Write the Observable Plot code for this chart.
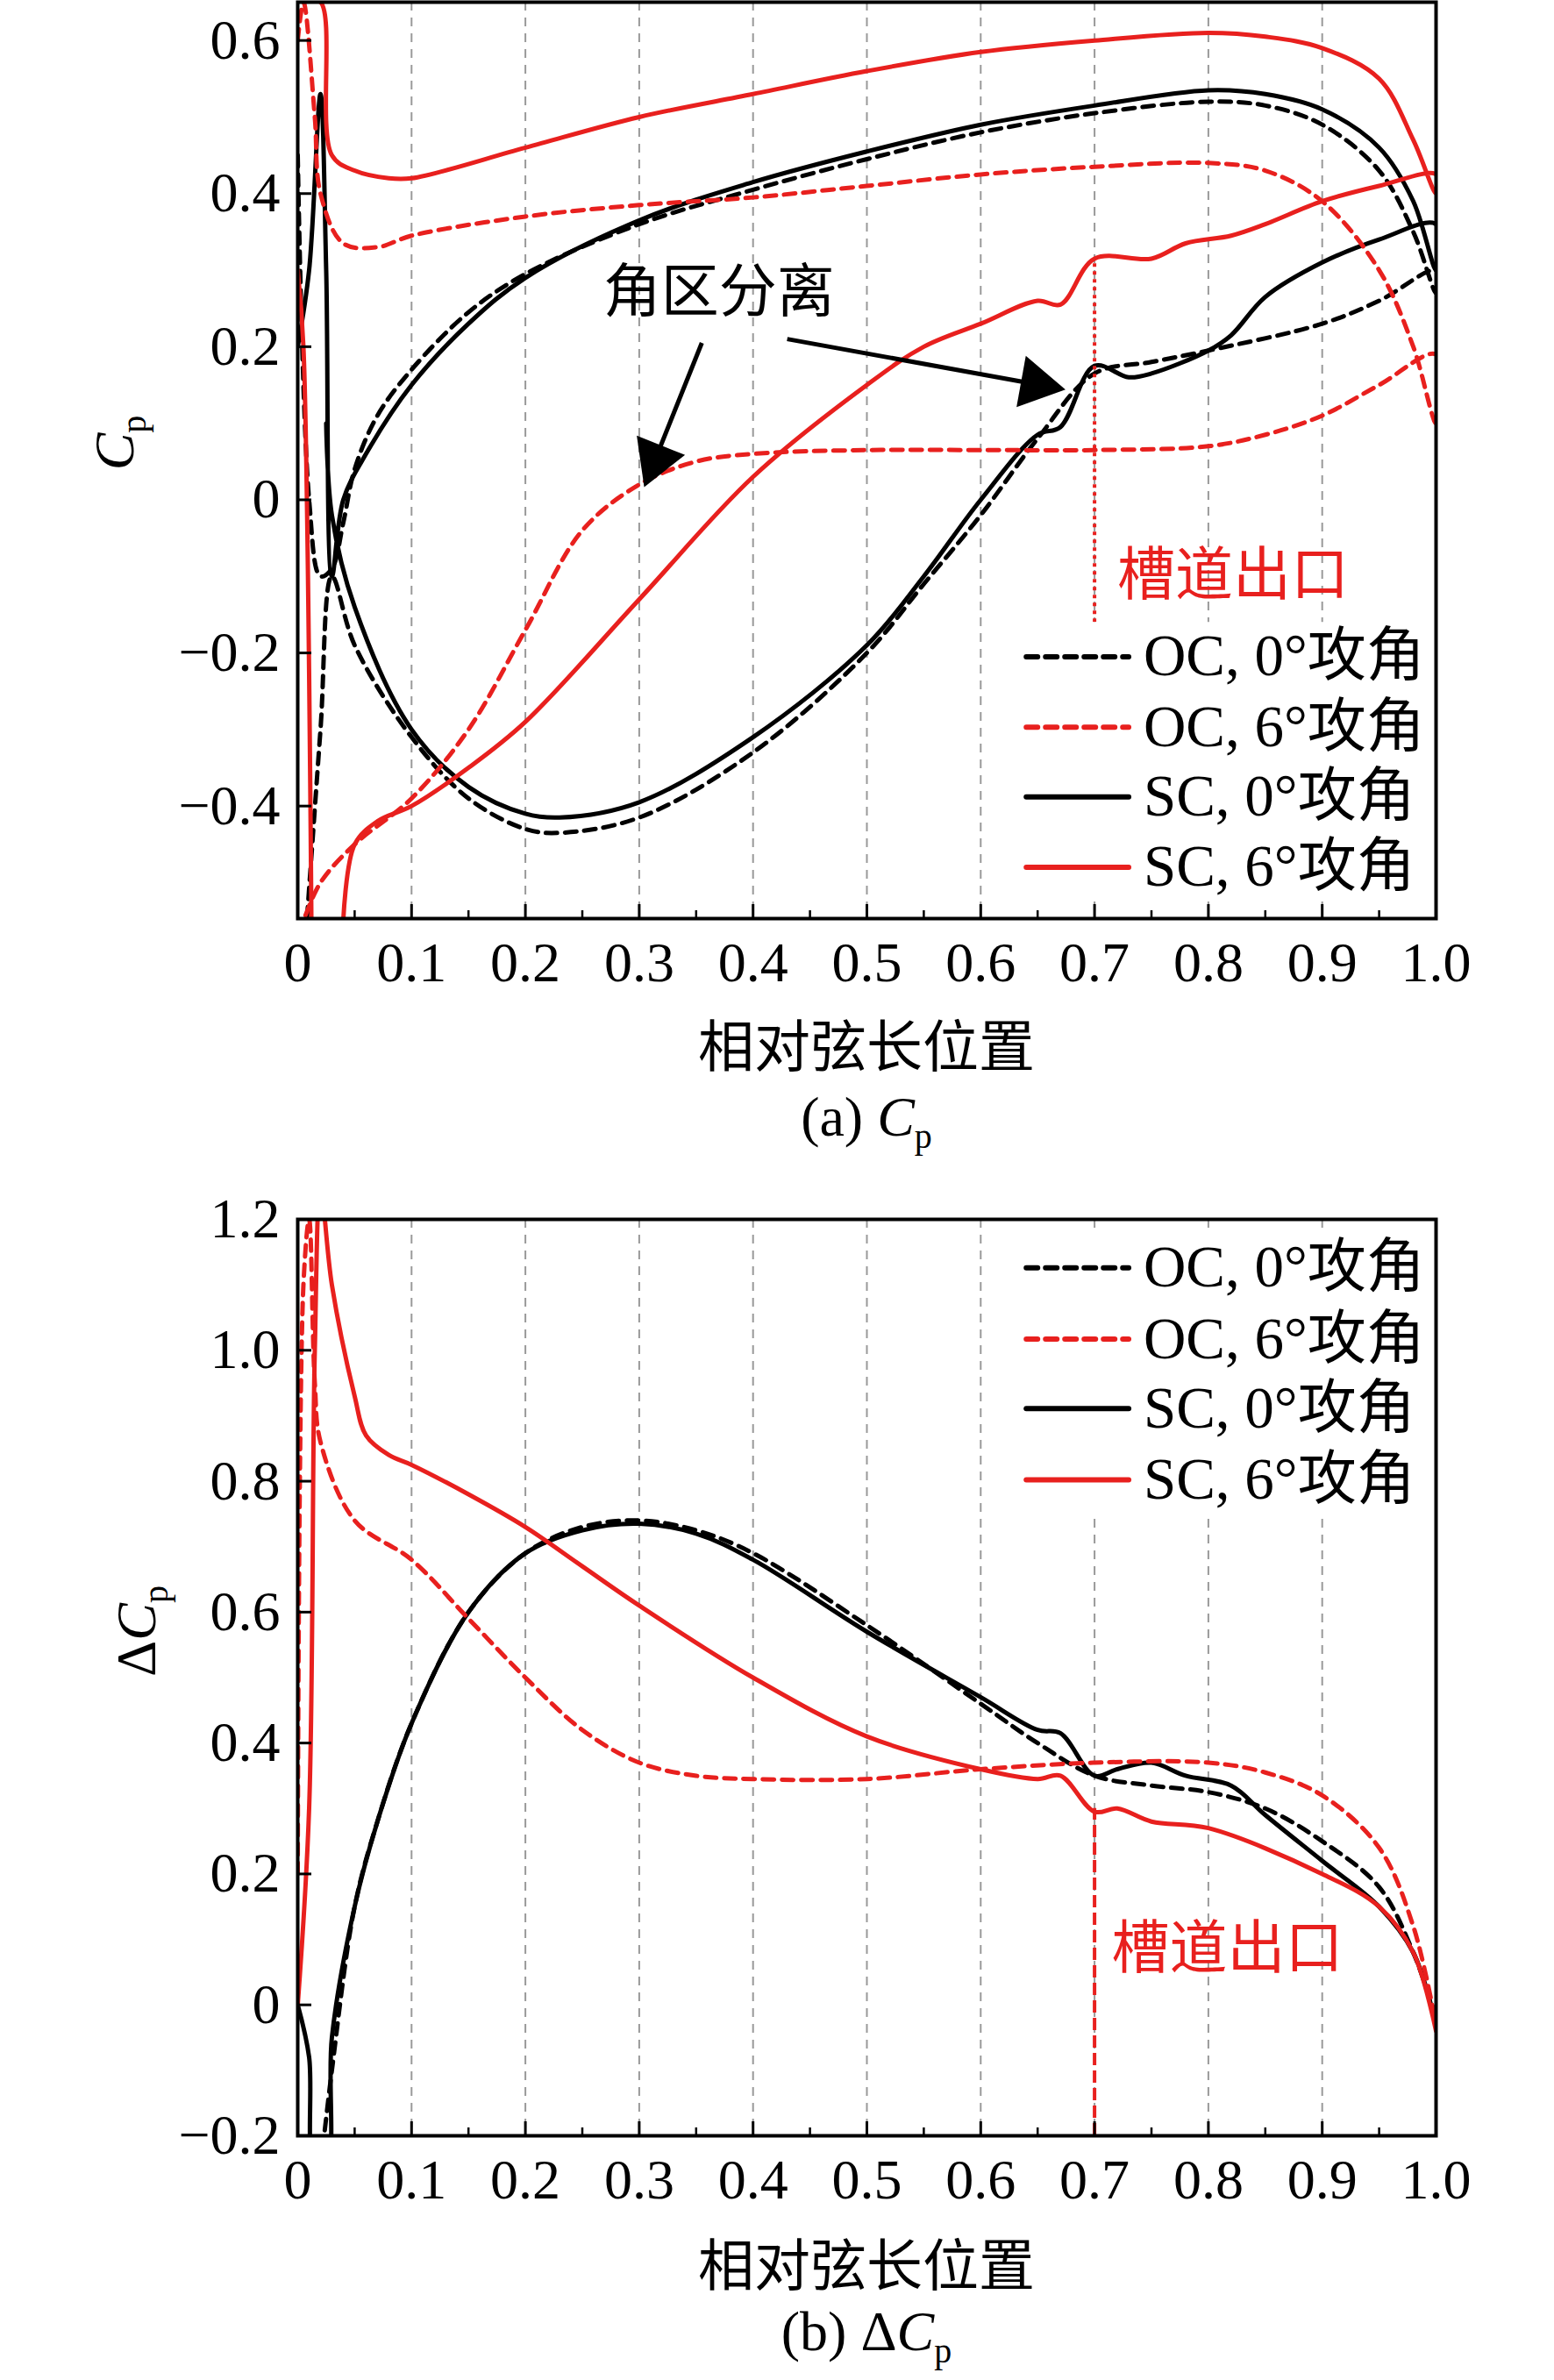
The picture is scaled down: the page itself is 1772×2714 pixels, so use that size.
<!DOCTYPE html>
<html><head><meta charset="utf-8">
<script src="https://cdn.jsdelivr.net/npm/d3@7"></script>
<script src="https://cdn.jsdelivr.net/npm/@observablehq/plot@0.6"></script>
<style>
body{margin:0;background:#fff;font-family:"Liberation Serif","Noto Sans CJK SC",serif;}
#wrap{position:relative;width:1772px;height:2714px;}
.lab{position:absolute;font-size:64px;white-space:nowrap;transform:translateX(-50%);}
.ylab{position:absolute;font-size:64px;white-space:nowrap;transform:translate(-50%,-50%) rotate(-90deg);}
sub{font-size:40px;}
</style></head><body><div id="wrap"></div>
<script>
// Panel (a) Cp
const ocA0 = [[0,0.45],[0.01,0.0],[0.02,-0.1],[0.03,-0.09],[0.04,-0.03],[0.05,0.04],[0.07,0.11],[0.1,0.17],[0.15,0.245],[0.2,0.295],[0.3,0.36],[0.4,0.405],[0.5,0.445],[0.6,0.48],[0.7,0.505],[0.8,0.52],[0.85,0.515],[0.9,0.49],[0.95,0.43],[0.98,0.35],[1.0,0.27],
  [1.0,0.3],[0.95,0.26],[0.9,0.23],[0.8,0.195],[0.75,0.18],[0.7,0.165],[0.65,0.08],[0.6,-0.02],[0.55,-0.11],[0.5,-0.2],[0.4,-0.33],[0.3,-0.415],[0.23,-0.435],[0.2,-0.43],[0.15,-0.39],[0.1,-0.31],[0.05,-0.19],[0.03,-0.1],[0.02,-0.3],[0.008,-0.55]];
const scA0 = [[0,0.2],[0.01,0.3],[0.02,0.53],[0.025,0.3],[0.03,-0.1],[0.04,0.0],[0.06,0.06],[0.1,0.15],[0.15,0.23],[0.2,0.29],[0.3,0.365],[0.4,0.415],[0.5,0.455],[0.6,0.49],[0.7,0.515],[0.8,0.535],[0.85,0.53],[0.9,0.51],[0.95,0.46],[0.98,0.39],[1.0,0.3],
  [1.0,0.36],[0.95,0.34],[0.9,0.31],[0.85,0.265],[0.82,0.215],[0.8,0.195],[0.75,0.165],[0.73,0.16],[0.7,0.175],[0.67,0.095],[0.65,0.085],[0.6,0.0],[0.55,-0.1],[0.5,-0.19],[0.4,-0.31],[0.3,-0.395],[0.23,-0.415],[0.2,-0.41],[0.15,-0.375],[0.1,-0.3],[0.05,-0.14],[0.03,-0.02],[0.025,0.1]];
const ocA6 = [[0,0.6],[0.005,0.65],[0.015,0.5],[0.02,0.4],[0.04,0.335],[0.07,0.33],[0.1,0.345],[0.2,0.37],[0.3,0.385],[0.4,0.395],[0.5,0.41],[0.6,0.425],[0.7,0.435],[0.8,0.44],[0.85,0.43],[0.9,0.39],[0.95,0.3],[0.98,0.2],[1.0,0.1],
  [1.0,0.19],[0.95,0.15],[0.9,0.11],[0.85,0.085],[0.8,0.07],[0.7,0.065],[0.6,0.065],[0.5,0.065],[0.4,0.06],[0.35,0.05],[0.3,0.02],[0.25,-0.04],[0.2,-0.17],[0.15,-0.3],[0.1,-0.39],[0.05,-0.45],[0.02,-0.5],[0.005,-0.55]];
const scA6 = [[0.005,0.65],[0.02,0.65],[0.03,0.45],[0.05,0.43],[0.08,0.42],[0.1,0.42],[0.2,0.46],[0.3,0.5],[0.4,0.53],[0.5,0.56],[0.6,0.585],[0.7,0.6],[0.8,0.61],[0.85,0.605],[0.9,0.59],[0.95,0.55],[0.98,0.47],[1.0,0.4],
  [1.0,0.425],[0.95,0.41],[0.9,0.39],[0.85,0.36],[0.82,0.345],[0.78,0.335],[0.75,0.315],[0.7,0.315],[0.67,0.255],[0.65,0.26],[0.6,0.23],[0.55,0.2],[0.5,0.15],[0.4,0.03],[0.3,-0.13],[0.2,-0.29],[0.15,-0.35],[0.1,-0.4],[0.07,-0.42],[0.05,-0.45],[0.04,-0.55]];
const scA6le = [[0,0.3],[0.005,0.2],[0.012,-0.55]];
// Panel (b) ΔCp
const ocB0 = [[0.02,-0.25],[0.03,-0.1],[0.05,0.15],[0.07,0.28],[0.1,0.43],[0.15,0.6],[0.2,0.69],[0.25,0.73],[0.3,0.74],[0.35,0.725],[0.4,0.69],[0.5,0.58],[0.6,0.46],[0.65,0.4],[0.7,0.35],[0.75,0.335],[0.8,0.325],[0.85,0.3],[0.9,0.25],[0.95,0.18],[0.98,0.08],[1.0,-0.02]];
const scB0 = [[0,0.0],[0.01,-0.08],[0.015,-0.25],[0.025,-0.25],[0.03,-0.05],[0.05,0.15],[0.07,0.28],[0.1,0.43],[0.15,0.6],[0.2,0.69],[0.25,0.725],[0.3,0.735],[0.35,0.72],[0.4,0.68],[0.5,0.57],[0.6,0.47],[0.65,0.42],[0.67,0.415],[0.7,0.35],[0.72,0.36],[0.75,0.37],[0.78,0.35],[0.82,0.335],[0.85,0.29],[0.9,0.22],[0.95,0.15],[0.98,0.08],[1.0,-0.03]];
const ocB6 = [[0,0.2],[0.005,1.1],[0.01,1.2],[0.015,0.95],[0.02,0.86],[0.05,0.74],[0.1,0.68],[0.15,0.59],[0.2,0.5],[0.25,0.42],[0.3,0.37],[0.35,0.35],[0.4,0.345],[0.5,0.345],[0.6,0.36],[0.7,0.37],[0.8,0.37],[0.85,0.355],[0.9,0.32],[0.95,0.24],[0.98,0.12],[1.0,-0.03]];
const scB6 = [[0,0.0],[0.01,0.3],[0.015,1.0],[0.02,1.25],[0.03,1.1],[0.05,0.93],[0.06,0.87],[0.08,0.84],[0.1,0.825],[0.15,0.78],[0.2,0.73],[0.25,0.67],[0.3,0.61],[0.4,0.5],[0.5,0.41],[0.6,0.36],[0.65,0.345],[0.67,0.35],[0.7,0.295],[0.72,0.3],[0.75,0.28],[0.8,0.27],[0.9,0.2],[0.95,0.15],[0.98,0.08],[1.0,-0.04]];
const legendNames = ["OC, 0°攻角","OC, 6°攻角","SC, 0°攻角","SC, 6°攻角"];
const legendColors = ["#000","#e8201e","#000","#e8201e"];
const legendDash = [true,true,false,false];
const xTicks = d3.range(0,1.01,0.1).map(v=>+v.toFixed(1));
const yTicksA = [-0.4,-0.2,0,0.2,0.4,0.6];
const yTicksB = [-0.2,0,0.2,0.4,0.6,0.8,1.0,1.2];
const legendYA = [-0.205,-0.297,-0.388,-0.48];
const legendYB = [1.126,1.017,0.911,0.802];
const arrowsA = [[0.355,0.205,0.312,0.045],[0.43,0.21,0.66,0.148]];

const RED="#e8201e", DASH="13,9";
const fmtX = d => d===0?"0":d.toFixed(1);
const fmtY = d => d===0?"0":(d<0?"\u2212":"")+Math.abs(d).toFixed(1);

function panel(opt){
  const {height, mt, mb, ydom, yticks, series, legendY, extra} = opt;
  const marks = [
    Plot.ruleX(xTicks.slice(1,-1),{stroke:"#999",strokeWidth:2,strokeDasharray:"10,8"}),
  ];
  for(const s of series){
    marks.push(Plot.line(s.data,{x:d=>d[0],y:d=>d[1],stroke:s.c,strokeWidth:5,strokeDasharray:s.dash?DASH:null,clip:true,curve:"catmull-rom"}));
  }
  marks.push(...extra(height-mt-mb, ydom));
  const x0=0.63,x1=0.997, pad=0.045*(ydom[1]-ydom[0])/1.2;
  marks.push(Plot.rect([0],{x1:x0,x2:x1,y1:legendY[3]-pad,y2:legendY[0]+pad,fill:"#fff"}));
  legendNames.forEach((n,i)=>{
    marks.push(Plot.line([[0.64,legendY[i]],[0.73,legendY[i]]],{x:d=>d[0],y:d=>d[1],stroke:legendColors[i],strokeWidth:6,strokeDasharray:legendDash[i]?DASH:null}));
    marks.push(Plot.text([n],{x:0.743,y:legendY[i],text:d=>d,textAnchor:"start",fontSize:67,fill:"#000"}));
  });
  marks.push(
    Plot.axisX({ticks:xTicks,tickFormat:fmtX,tickSize:-16,tickPadding:42,fontSize:64,strokeWidth:3,label:null}),
    Plot.axisX({ticks:d3.range(0.05,1,0.1),tickFormat:()=>"",tickSize:-9,strokeWidth:2.5,label:null}),
    Plot.axisY({ticks:yticks,tickFormat:fmtY,tickSize:-16,tickPadding:36,fontSize:64,strokeWidth:3,label:null}),
    Plot.frame({stroke:"#000",strokeWidth:4})
  );
  return Plot.plot({width:1772,height,marginLeft:339,marginRight:135,marginTop:mt,marginBottom:mb,
    x:{domain:[0,1]},y:{domain:ydom},style:{fontFamily:'"Liberation Serif","Noto Sans CJK SC",serif',background:"#fff",overflow:"visible"},marks});
}
const wrap=document.getElementById("wrap");
const pa = panel({height:1300,mt:2,mb:253,ydom:[-0.547,0.65],yticks:yTicksA,legendY:legendYA,
  series:[{data:ocA0,c:"#000",dash:true},{data:scA0,c:"#000"},{data:ocA6,c:RED,dash:true},{data:scA6,c:RED},{data:scA6le,c:RED}],
  extra:(ph,yd)=>{
    const kx=1298, ky=ph/(yd[1]-yd[0]);
    const ang=d=>Math.atan2((d[3]-d[1])*-ky,(d[2]-d[0])*kx)*180/Math.PI+90;
    return [
    Plot.ruleX([0.7],{y1:-0.16,y2:0.315,stroke:RED,strokeWidth:4,strokeDasharray:"4,5"}),
    Plot.text(["槽道出口"],{x:0.72,y:-0.1,text:d=>d,textAnchor:"start",fontSize:66,fill:RED}),
    Plot.text(["角区分离"],{x:0.37,y:0.27,text:d=>d,fontSize:66,fill:"#000"}),
    Plot.link(arrowsA,{x1:d=>d[0],y1:d=>d[1],x2:d=>d[2]-(d[2]-d[0])*0.08,y2:d=>d[3]-(d[3]-d[1])*0.08,stroke:"#000",strokeWidth:5}),
    Plot.dot(arrowsA,{x:d=>d[2]-(d[2]-d[0])*0.05,y:d=>d[3]-(d[3]-d[1])*0.05,symbol:"triangle",r:22,fill:"#000",rotate:ang})
  ];}});
const pb = panel({height:1414,mt:90,mb:279,ydom:[-0.2,1.2],yticks:yTicksB,legendY:legendYB,
  series:[{data:ocB0,c:"#000",dash:true},{data:scB0,c:"#000"},{data:ocB6,c:RED,dash:true},{data:scB6,c:RED}],
  extra:()=>[
    Plot.ruleX([0.7],{y1:-0.2,y2:0.3,stroke:RED,strokeWidth:4,strokeDasharray:"14,6"}),
    Plot.text(["槽道出口"],{x:0.715,y:0.085,text:d=>d,textAnchor:"start",fontSize:66,fill:RED})
  ]});
for(const [p,top] of [[pa,0],[pb,1300]]){p.style.position="absolute";p.style.left="0";p.style.top=top+"px";wrap.appendChild(p);}
function add(cls,html,x,y){const d=document.createElement("div");d.className=cls;d.innerHTML=html;d.style.left=x+"px";d.style.top=y+"px";wrap.appendChild(d);}
add("lab","相对弦长位置",988,1142);
add("lab","(a) <i>C</i><sub>p</sub>",988,1237);
add("lab","相对弦长位置",988,2532);
add("lab","(b) Δ<i>C</i><sub>p</sub>",988,2622);
add("ylab","<i>C</i><sub>p</sub>",135,505);
add("ylab","Δ<i>C</i><sub>p</sub>",160,1860);
</script></body></html>
